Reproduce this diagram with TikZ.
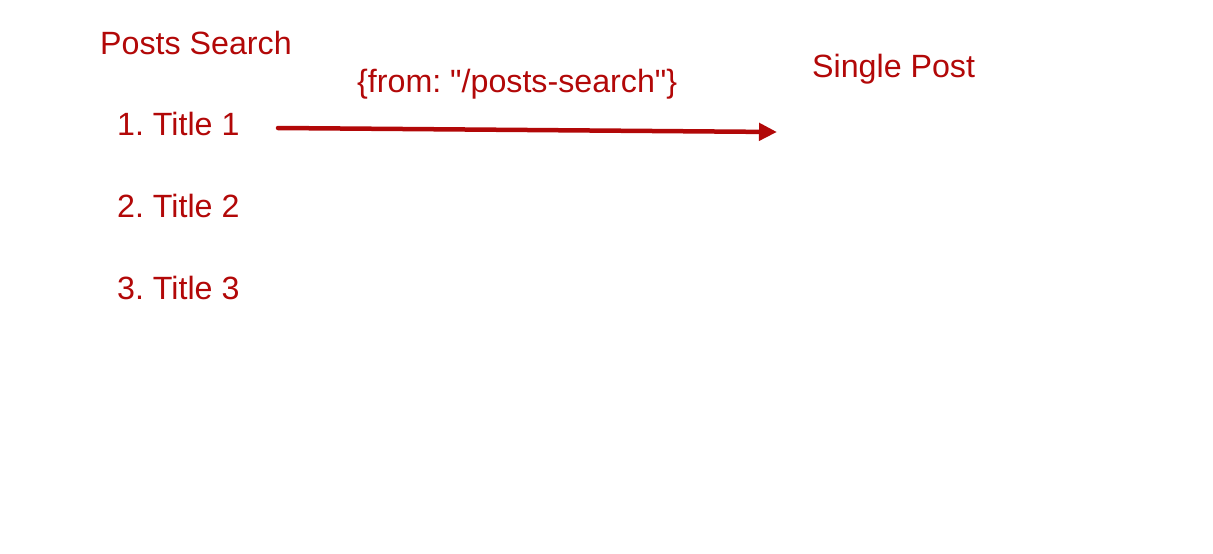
\documentclass[tikz,border=0pt]{standalone}
\usepackage{fontspec}
\newfontfamily\arialfont{Liberation Sans}
\usetikzlibrary{arrows.meta}
\definecolor{dred}{RGB}{178,8,8}
\frenchspacing
\begin{document}
\begin{tikzpicture}[x=1pt,y=-1pt,
  lbl/.style={anchor=base west,inner sep=0pt,text=dred,font=\arialfont\fontsize{32.2}{38}\selectfont},
  conn/.style={draw=dred,line width=4.5pt,line cap=round,-{Triangle[length=18pt,width=17pt]}}]
\useasboundingbox (0,0) rectangle (1213,554);
\node[lbl] (ps) at (100,54.5) {Posts Search};
\node[lbl] (t1) at (117,135.5) {1. Title 1};
\node[lbl] (t2) at (117,217.5) {2. Title 2};
\node[lbl] (t3) at (117,299.5) {3. Title 3};
\node[lbl] (from) at (357,92.5) {\{from: "/posts-search"\}};
\node[lbl] (sp) at (812,77.5) {Single Post};
\coordinate (s) at (278,128);
\coordinate (e) at (777,132);
\draw[conn] (s) -- (e);
\end{tikzpicture}
\end{document}
